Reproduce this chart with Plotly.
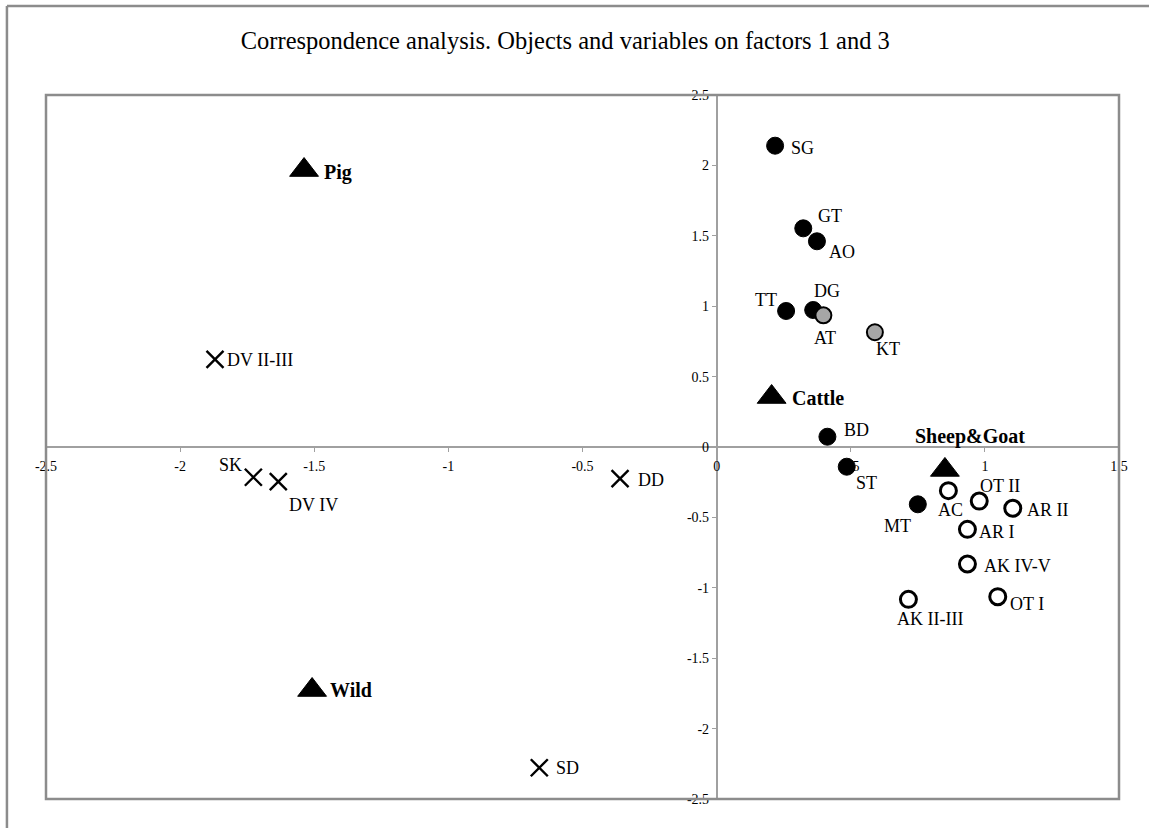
import plotly.graph_objects as go

# ---------------- data ----------------
filled_labels = ["SG", "GT", "AO", "TT", "DG", "BD", "ST", "MT"]
filled_x = [0.218, 0.323, 0.374, 0.259, 0.360, 0.413, 0.485, 0.750]
filled_y = [2.14, 1.553, 1.461, 0.966, 0.973, 0.073, -0.140, -0.407]

gray_labels = ["AT", "KT"]
gray_x = [0.398, 0.590]
gray_y = [0.935, 0.815]

open_labels = ["AC", "OT II", "AR II", "AR I", "AK IV-V", "OT I", "AK II-III"]
open_x = [0.864, 0.979, 1.104, 0.935, 0.935, 1.048, 0.715]
open_y = [-0.310, -0.384, -0.435, -0.585, -0.831, -1.063, -1.082]

cross_labels = ["DV II-III", "SK", "DV IV", "DD", "SD"]
cross_x = [-1.870, -1.727, -1.634, -0.360, -0.661]
cross_y = [0.623, -0.215, -0.246, -0.225, -2.278]

species_labels = ["Pig", "Cattle", "Sheep&Goat", "Wild"]
species_x = [-1.538, 0.205, 0.851, -1.508]
species_y = [1.967, 0.355, -0.163, -1.726]

x_ticks = [-2.5, -2, -1.5, -1, -0.5, 0, 0.5, 1, 1.5]
y_ticks = [-2.5, -2, -1.5, -1, -0.5, 0, 0.5, 1, 1.5, 2, 2.5]

# label offsets in pixels (dx right, dy down) of text centre from marker
label_offsets = {
    "SG": (27, 2), "GT": (27, -12), "AO": (25, 11), "TT": (-20, -11),
    "DG": (14, -19), "BD": (29, -7), "ST": (20, 16), "MT": (-20, 22),
    "AT": (2, 23), "KT": (13, 17),
    "AC": (2, 19), "OT II": (21, -15), "AR II": (35, 2), "AR I": (30, 3),
    "AK IV-V": (50, 2), "OT I": (29, 7), "AK II-III": (22, 20),
    "DV II-III": (45, 1), "SK": (-23, -12), "DV IV": (35, 23), "DD": (31, 1),
    "SD": (28, 0),
    "Pig": (34, 2), "Cattle": (46, 1), "Sheep&Goat": (25, -33), "Wild": (39, 0),
}

SERIF = "Liberation Serif"
AXIS_GRAY = "#a0a0a0"
FRAME_GRAY = "#8c8c8c"

fig = go.Figure()

fig.add_trace(go.Scatter(
    x=filled_x, y=filled_y, mode="markers", name="filled",
    marker=dict(symbol="circle", size=17, color="black",
                line=dict(color="black", width=1)),
))
fig.add_trace(go.Scatter(
    x=gray_x, y=gray_y, mode="markers", name="gray",
    marker=dict(symbol="circle", size=16, color="#a6a6a6",
                line=dict(color="black", width=2)),
))
fig.add_trace(go.Scatter(
    x=open_x, y=open_y, mode="markers", name="open",
    marker=dict(symbol="circle", size=16, color="white",
                line=dict(color="black", width=3)),
))
fig.add_trace(go.Scatter(
    x=cross_x, y=cross_y, mode="markers", name="cross",
    marker=dict(symbol="x-thin", size=17, color="black",
                line=dict(color="black", width=2.4)),
))
fig.add_trace(go.Scatter(
    x=species_x, y=species_y, mode="markers", name="species",
    marker=dict(symbol="triangle-up", size=25, color="black",
                line=dict(color="black", width=1)),
))

annotations = []


def add_labels(labels, xs, ys, bold=False, size=18):
    for lab, xv, yv in zip(labels, xs, ys):
        dx, dy = label_offsets[lab]
        txt = f"<b>{lab}</b>" if bold else lab
        annotations.append(dict(
            x=xv, y=yv, xref="x", yref="y", text=txt, showarrow=False,
            xanchor="center", yanchor="middle", xshift=dx, yshift=-dy,
            font=dict(family=SERIF, size=size, color="black"),
        ))


add_labels(filled_labels, filled_x, filled_y)
add_labels(gray_labels, gray_x, gray_y)
add_labels(open_labels, open_x, open_y)
add_labels(cross_labels, cross_x, cross_y)
add_labels(species_labels, species_x, species_y, bold=True, size=20)


def fmt(v):
    return f"{v:g}"


fig.update_layout(
    width=1149, height=828,
    margin=dict(l=46, r=30, t=95, b=29),
    paper_bgcolor="white", plot_bgcolor="white",
    showlegend=False,
    title=dict(
        text="Correspondence analysis. Objects and variables on factors 1 and 3",
        x=0.492, xref="container", xanchor="center",
        y=1 - 40 / 828, yref="container", yanchor="middle",
        font=dict(family=SERIF, size=24.5, color="black"),
    ),
    xaxis=dict(
        range=[-2.5, 1.5], anchor="free", position=0.5,
        showgrid=False, zeroline=False,
        showline=True, linecolor=AXIS_GRAY, linewidth=1.5,
        ticks="outside", ticklen=4, tickcolor=AXIS_GRAY, tickwidth=1,
        tickvals=x_ticks, ticktext=[fmt(v) for v in x_ticks],
        tickfont=dict(family=SERIF, size=14, color="black"),
        ticklabelstandoff=2,
    ),
    yaxis=dict(
        range=[-2.5, 2.5], anchor="free", position=0.625,
        showgrid=False, zeroline=False,
        showline=True, linecolor=AXIS_GRAY, linewidth=1.5,
        ticks="outside", ticklen=4, tickcolor=AXIS_GRAY, tickwidth=1,
        tickvals=y_ticks, ticktext=[fmt(v) for v in y_ticks],
        tickfont=dict(family=SERIF, size=14, color="black"),
    ),
    annotations=annotations,
    shapes=[
        # plot area border
        dict(type="rect", xref="paper", yref="paper", x0=0, y0=0, x1=1, y1=1,
             line=dict(color=FRAME_GRAY, width=2.5), layer="above"),
        # outer chart frame (top and left edges)
        dict(type="line", xref="paper", yref="paper",
             x0=-0.0364, y0=1.1264, x1=1.05, y1=1.1264,
             line=dict(color=FRAME_GRAY, width=2.5)),
        dict(type="line", xref="paper", yref="paper",
             x0=-0.0364, y0=1.1264, x1=-0.0364, y1=-0.07,
             line=dict(color=FRAME_GRAY, width=2.5)),
    ],
)

# remove the default page margin so the figure fills the window exactly
fig.write_html(
    "out.html",
    config={"displayModeBar": False},
    post_script="document.body.style.margin='0';",
)
